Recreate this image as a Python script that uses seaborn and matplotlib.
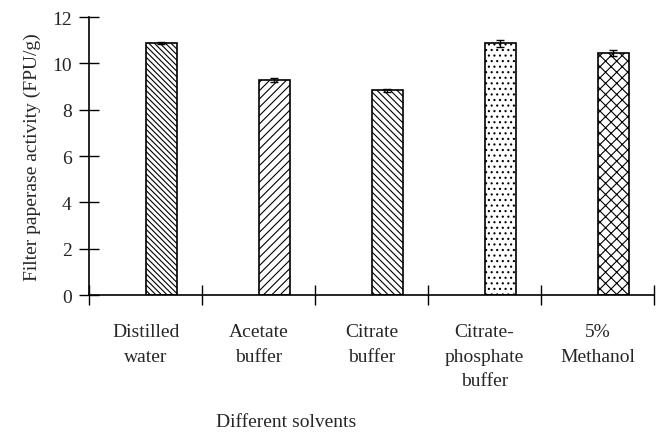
import numpy as np
import pandas as pd
import matplotlib
matplotlib.use("Agg")
import matplotlib.pyplot as plt
import seaborn as sns

solvents = ["Distilled\nwater", "Acetate\nbuffer", "Citrate\nbuffer",
            "Citrate-\nphosphate\nbuffer", "5%\nMethanol"]
activity = [10.88, 9.28, 8.83, 10.86, 10.44]
errors = [0.05, 0.08, 0.06, 0.15, 0.12]
hatches = ["\\\\\\\\\\\\", "////", "\\\\\\\\\\", "...", "xxx"]

df = pd.DataFrame({"Solvent": solvents, "Activity": activity})

sns.set_style("white")
plt.rcParams["font.family"] = ["Liberation Serif", "DejaVu Serif"]
plt.rcParams["hatch.linewidth"] = 0.8

fig = plt.figure(figsize=(6.6, 4.35), dpi=100)
ax = fig.add_axes([0.135, 0.3195, 0.856, 0.6391])

w = 0.28
sns.barplot(data=df, x="Solvent", y="Activity", color="white", width=w,
            edgecolor="black", linewidth=1.2, errorbar=None, ax=ax)

# bars sit just right of the category centre
for i, p in enumerate(ax.patches):
    p.set_x(p.get_x() + w / 2)
    p.set_hatch(hatches[i])
    ax.errorbar(i + w / 2, activity[i], yerr=errors[i], color="black",
                capsize=3, elinewidth=1, capthick=1)

ax.set_xlim(-0.5, len(solvents) - 0.5)
ax.set_ylim(0, 12)
ax.set_yticks(np.arange(0, 13, 2))
ax.tick_params(axis="y", left=True, direction="inout", length=15, width=1,
               labelsize=14, pad=5, color="black")

ax.set_xticks(np.arange(-0.5, len(solvents), 1.0))
ax.set_xticklabels([])
ax.tick_params(axis="x", bottom=True, direction="inout", length=14, width=1,
               color="black")
for i, lab in enumerate(solvents):
    ax.text(i, -1.2, lab, ha="center", va="top", fontsize=14,
            linespacing=1.6)

ax.set_xlabel("")
ax.set_ylabel("Filter paperase activity (FPU/g)", fontsize=14, labelpad=8)
fig.text(0.433, 0.028, "Different solvents", ha="center", va="center", fontsize=14)

sns.despine(ax=ax)
for s in ["left", "bottom"]:
    ax.spines[s].set_color("black")
    ax.spines[s].set_linewidth(1.2)

fig.savefig("out.png", dpi=100)
